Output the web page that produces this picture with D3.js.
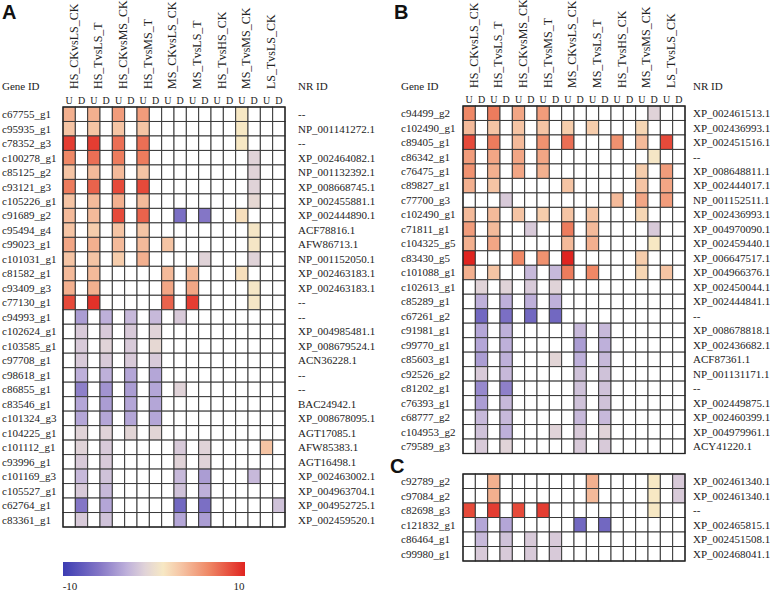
<!DOCTYPE html>
<html><head><meta charset="utf-8">
<script src="https://cdn.jsdelivr.net/npm/d3@7"></script>
<style>body{margin:0;background:#fff}svg{display:block}
text{font-family:"Liberation Serif","DejaVu Serif",serif}
text.panel{font-family:"Liberation Sans","DejaVu Sans",sans-serif}</style>
</head><body>
<svg id="chart" width="778" height="594"></svg>
<script>
const comparisons = ["HS_CKvsLS_CK","HS_TvsLS_T","HS_CKvsMS_CK","HS_TvsMS_T","MS_CKvsLS_CK","MS_TvsLS_T","HS_TvsHS_CK","MS_TvsMS_CK","LS_TvsLS_CK"];
const directions = ["U","D"];

const geneIdsA = ["c67755_g1","c95935_g1","c78352_g3","c100278_g1","c85125_g2","c93121_g3","c105226_g1","c91689_g2","c95494_g4","c99023_g1","c101031_g1","c81582_g1","c93409_g3","c77130_g1","c94993_g1","c102624_g1","c103585_g1","c97708_g1","c98618_g1","c86855_g1","c83546_g1","c101324_g3","c104225_g1","c101112_g1","c93996_g1","c101169_g3","c105527_g1","c62764_g1","c83361_g1"];
const nrIdsA = ["--","NP_001141272.1","--","XP_002464082.1","NP_001132392.1","XP_008668745.1","XP_002455881.1","XP_002444890.1","ACF78816.1","AFW86713.1","NP_001152050.1","XP_002463183.1","XP_002463183.1","--","--","XP_004985481.1","XP_008679524.1","ACN36228.1","--","--","BAC24942.1","XP_008678095.1","AGT17085.1","AFW85383.1","AGT16498.1","XP_002463002.1","XP_004963704.1","XP_004952725.1","XP_002459520.1"];
const valuesA = [
 [4,0,4,0,5,0,5,0,0,0,0,0,0,0,1,0,0,0],
 [3,0,3,0,3,0,3,0,0,0,0,0,0,0,1,0,0,0],
 [9,0,9,0,7,0,7,0,0,0,0,0,0,0,1,0,0,0],
 [6,0,7,0,6.5,0,6.5,0,0,0,0,0,0,0,0,-1,0,0],
 [3,0,3.5,0,3.5,0,3,0,0,0,0,0,0,0,0,-1,0,0],
 [6.5,0,7.5,0,8.5,0,8.5,0,0,0,0,0,0,0,0,-1,0,0],
 [3,0,3.5,0,4,0,3.5,0,0,0,0,0,0,0,0,-0.5,0,0],
 [3.5,0,3.5,0,8.5,0,7.5,0,0,-6.5,0,-6,0,0,1.5,0,0,0],
 [3,0,2.5,0,3,0,3,0,0,0,0,0,0,0,0,0.8,0,0],
 [4.5,0,4,0,3.5,0,3.5,0,3,0,0,0,0,0,0,0.8,0,0],
 [3,0,3,0,2.5,0,4,0,0,0,0,-1,0,0,0,-1,0,0],
 [3.5,0,3.5,0,0,0,0,0,3.5,0,3.5,0,0,0,1.5,0,0,0],
 [4,0,4,0,0,0,0,0,4.5,0,4.5,0,0,0,0,0.8,0,0],
 [8.5,0,9.5,0,0,0,0,0,7.5,0,9,0,0,0,0,0.8,0,0],
 [0,-4,0,-3,0,-2.5,0,-2.5,0,-1.5,0,0,0,0,0,0,0,0],
 [0,-1.5,0,-1.5,0,-1.5,0,-1,0,0,0,0,0,0,0,0,0,0],
 [0,-1.5,0,-1,0,-1.5,0,-0.5,0,0,0,0,0,0,0,0,0,0],
 [0,-1.5,0,-1.5,0,-1.5,0,-1.5,0,0,0,0,0,0,0,0,0,0],
 [0,-3,0,-3,0,-3.5,0,-3.5,0,0,0,0,0,0,0,0,0,0],
 [0,-5.5,0,-4.5,0,-4,0,-3.5,0,-1,0,0,0,0,0,0,0,0],
 [0,-3.5,0,-4,0,-3.5,0,-3.5,0,0,0,0,0,0,0,0,0,0],
 [0,-3.5,0,-3.5,0,-3.5,0,-3.5,0,0,0,0,0,0,0,0,0,0],
 [0,-1,0,-1,0,-0.8,0,-0.8,0,0,0,0,0,0,0,0,0,0],
 [0,-1,0,-1.5,0,0,0,0,0,-1.5,0,-1,0,0,0,0,3,0],
 [0,-1.5,0,-1.5,0,0,0,0,0,-1,0,-1,0,0,0,0,0,0],
 [0,-2.5,0,-2,0,0,0,0,0,-2.5,0,-4,0,0,0,-2.5,0,0],
 [0,-1.5,0,-2.5,0,0,0,0,0,-2,0,-3,0,0,0,0,0,0],
 [0,-6,0,-3.5,0,0,0,0,0,-7,0,-6.5,0,0,0,0,0,-2],
 [0,-1.5,0,-2,0,0,0,0,0,-3.5,0,-4,0,0,0,0,0,0]
];

const geneIdsB = ["c94499_g2","c102490_g1","c89405_g1","c86342_g1","c76475_g1","c89827_g1","c77700_g3","c102490_g1","c71811_g1","c104325_g5","c83430_g5","c101088_g1","c102613_g1","c85289_g1","c67261_g2","c91981_g1","c99770_g1","c85603_g1","c92526_g2","c81202_g1","c76393_g1","c68777_g2","c104953_g2","c79589_g3"];
const nrIdsB = ["XP_002461513.1","XP_002436993.1","XP_002451516.1","--","XP_008648811.1","XP_002444017.1","NP_001152511.1","XP_002436993.1","XP_004970090.1","XP_002459440.1","XP_006647517.1","XP_004966376.1","XP_002450044.1","XP_002444841.1","--","XP_008678818.1","XP_002436682.1","ACF87361.1","NP_001131171.1","--","XP_002449875.1","XP_002460399.1","XP_004979961.1","ACY41220.1"];
const valuesB = [
 [6,0,6.5,0,4.5,0,5,0,0,0,0,0,0,0,0,-1,0,0],
 [3.5,0,3,0,3,0,3,0,2.5,0,2.5,0,0,0,2,0,0,0],
 [8.5,0,6.5,0,3.5,0,5.5,0,7,0,0,0,5.5,0,3.5,0,8.5,0],
 [5,0,4.5,0,4.5,0,4.5,0,0,0,0,0,0,0,0,0.8,0,0],
 [5.5,0,4,0,4.5,0,4,0,0,0,0,0,0,0,2.5,0,5,0],
 [4,0,3,0,0,0,0,0,3,0,0,0,0,0,3,0,4.5,0],
 [0,0,0,-1.5,0,0,0,0,0,0,0,0,3.5,0,4.5,0,5,0],
 [3.5,0,3.5,0,3,0,2.5,0,3,0,3,0,0,0,2,0,0,0],
 [5,0,3.5,0,0,-1.5,0,0,6.5,0,3.5,0,0,0,0,-1.5,0,0],
 [4,0,4.5,0,0,0,0,0,3.5,0,4,0,0,0,0,1,0,0],
 [10,0,0,0,6,0,5.5,0,10,0,0,0,0,0,2.5,0,0,0],
 [4,0,3,0,0,-2.5,0,-2.5,6.5,0,6,0,0,0,2,0,3,0],
 [0,-1,0,-1,0,-1.5,0,-1,0,0,0,0,0,0,0,0,0,0],
 [0,-3,0,-3,0,-3,0,-3,0,0,0,0,0,0,0,0,0,0],
 [0,-7,0,-6.5,0,-7,0,-7,0,0,0,0,0,0,0,0,0,0],
 [0,-3.5,0,-3,0,0,0,0,0,-2.5,0,-2.5,0,0,0,0,0,0],
 [0,-3.5,0,-3,0,0,0,0,0,-4,0,-3,0,0,0,0,0,0],
 [0,-4,0,-3,0,0,0,-0.8,0,-3,0,-2.5,0,0,0,0,0,0],
 [0,-1.5,0,-2.5,0,0,0,0,0,-2,0,-2,0,0,0,0,0,0],
 [0,-5,0,-5.5,0,0,0,0,0,-2,0,-2,0,0,0,0,0,0],
 [0,-4,0,-2.5,0,0,0,0,0,-2,0,-2,0,0,0,0,0,0],
 [0,-2.5,0,-2.5,0,0,0,0,0,-2.5,0,-2.5,0,0,0,0,0,0],
 [0,-2,0,-3,0,0,0,-1,0,-1.5,0,-1,0,0,0,0,0,0],
 [0,-1.5,0,-1,0,0,0,0,0,-1.5,0,-1.5,0,0,0,0,0,0]
];

const geneIdsC = ["c92789_g2","c97084_g2","c82698_g3","c121832_g1","c86464_g1","c99980_g1"];
const nrIdsC = ["XP_002461340.1","XP_002461340.1","--","XP_002465815.1","XP_002451508.1","XP_002468041.1"];
const valuesC = [
 [0,0,4,0,0,0,0,0,0,0,4,0,0,0,0,1,0,-1.5],
 [0,0,4,0,0,0,0,0,0,0,3.5,0,0,0,0,1,0,-1.5],
 [8.5,0,9,0,8.5,0,9,0,0,0,0,0,0,0,0,1,0,0],
 [0,-3.5,0,-3.5,0,0,0,0,0,-7,0,-7,0,0,0,0,0,0],
 [0,-2.5,0,-2,0,-1.5,0,-1.5,0,0,0,0,0,0,0,0,0,0],
 [0,-1.5,0,-1.5,0,-1.5,0,-1.5,0,0,0,0,0,0,0,0,0,0]
];

const colorStops = [-10,-6,-3,-1,1,3,6,10];
const colorRange = ["#3c3cb2","#8476c6","#beb0da","#e0d3d8","#f7e8c4","#f5c4a4","#ef8866","#e02420"];
const legendTicks = ["-10","10"];

const color = d3.scaleLinear().domain(colorStops).range(colorRange).clamp(true);
const svg = d3.select("#chart");
const cols = d3.range(comparisons.length * directions.length);

function panel(opts){
  const {x0, x1, y0, y1, genes, nrs, values, geneX, nrX, header} = opts;
  const x = d3.scaleBand().domain(cols).range([x0, x1]);
  const y = d3.scaleBand().domain(d3.range(genes.length)).range([y0, y1]);
  const g = svg.append("g");
  const cells = [];
  values.forEach((row, r) => row.forEach((v, c) => cells.push({r, c, v})));
  g.selectAll("rect.cell").data(cells).join("rect")
    .attr("x", d => x(d.c)).attr("y", d => y(d.r))
    .attr("width", x.bandwidth()).attr("height", y.bandwidth())
    .attr("fill", d => d.v === 0 ? "#fff" : color(d.v))
    .attr("stroke", "#3a3a3a").attr("stroke-width", 1);
  g.append("rect").attr("x", x0).attr("y", y0).attr("width", x1 - x0).attr("height", y1 - y0)
    .attr("fill", "none").attr("stroke", "#222").attr("stroke-width", 1.3);
  g.selectAll("text.gene").data(genes).join("text")
    .attr("x", geneX).attr("y", (d, i) => y(i) + y.bandwidth() / 2).attr("dy", "0.35em")
    .attr("font-size", 11).attr("fill", "#222").text(d => d);
  g.selectAll("text.nr").data(nrs).join("text")
    .attr("x", nrX).attr("y", (d, i) => y(i) + y.bandwidth() / 2).attr("dy", "0.35em")
    .attr("font-size", 11).attr("fill", "#222").text(d => d);
  if (header) {
    g.selectAll("text.ud").data(cols).join("text")
      .attr("x", c => x(c) + x.bandwidth() / 2).attr("y", y0 - 3)
      .attr("text-anchor", "middle").attr("font-size", 10).attr("fill", "#222")
      .text(c => directions[c % 2]);
    g.selectAll("text.cmp").data(comparisons).join("text")
      .attr("transform", (d, i) => `translate(${x(i * 2) + x.bandwidth() - 2},${header.base}) rotate(-90)`)
      .attr("dy", "0.35em").attr("font-size", 12).attr("fill", "#222")
      .text(d => d);
    g.append("text").attr("x", geneX).attr("y", header.labelY)
      .attr("font-size", 11).attr("fill", "#222").text("Gene ID");
    g.append("text").attr("x", nrX).attr("y", header.labelY)
      .attr("font-size", 11).attr("fill", "#222").text("NR ID");
  }
}

panel({x0:63, x1:285, y0:107, y1:527, genes:geneIdsA, nrs:nrIdsA, values:valuesA, geneX:2, nrX:298, header:{base:89, labelY:90}});
panel({x0:463, x1:685, y0:106, y1:453.5, genes:geneIdsB, nrs:nrIdsB, values:valuesB, geneX:401, nrX:693, header:{base:88, labelY:90}});
panel({x0:463, x1:685, y0:474, y1:561, genes:geneIdsC, nrs:nrIdsC, values:valuesC, geneX:401, nrX:693, header:null});

const lab = (t, x, y) => svg.append("text").attr("class", "panel").attr("x", x).attr("y", y)
  .attr("font-weight", "bold").attr("font-size", 20).attr("fill", "#111").text(t);
lab("A", 2, 19); lab("B", 394, 19); lab("C", 390, 473);

// colorbar
const defs = svg.append("defs");
const grad = defs.append("linearGradient").attr("id", "cbar");
const lx = d3.scaleLinear().domain([-10, 10]).range([63, 245]);
grad.selectAll("stop").data(d3.range(-10, 10.01, 0.5)).join("stop")
  .attr("offset", d => ((d + 10) / 20 * 100) + "%").attr("stop-color", d => color(d));
svg.append("rect").attr("x", lx(-10)).attr("y", 562).attr("width", lx(10) - lx(-10)).attr("height", 14)
  .attr("fill", "url(#cbar)");
svg.selectAll("text.lt").data(legendTicks).join("text")
  .attr("x", d => lx(+d) + (+d < 0 ? 7 : -6)).attr("y", 590).attr("text-anchor", "middle")
  .attr("font-size", 11).attr("fill", "#222").text(d => d);
</script>
</body></html>
